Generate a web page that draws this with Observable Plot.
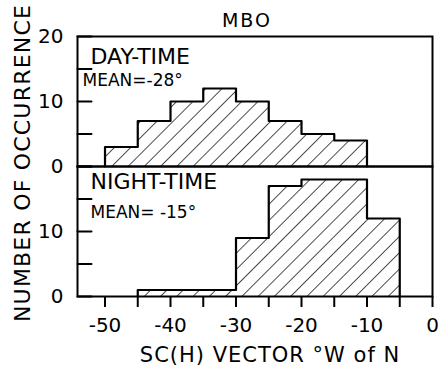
<!DOCTYPE html>
<html>
<head>
<meta charset="utf-8">
<script src="https://cdn.jsdelivr.net/npm/d3@7"></script>
<script src="https://cdn.jsdelivr.net/npm/@observablehq/plot@0.6"></script>
<style>
  html, body { margin: 0; padding: 0; background: white; }
  #chart { width: 438px; height: 367px; }
</style>
</head>
<body>
<div id="chart"></div>
<script>
// ---- data ----
const binWidth = 5;
const dayBinStarts = [-50, -45, -40, -35, -30, -25, -20, -15];
const dayCounts    = [3, 7, 10, 12, 10, 7, 5, 4];
const nightBinStarts = [-45, -40, -35, -30, -25, -20, -15, -10];
const nightCounts    = [1, 1, 1, 9, 17, 18, 18, 12];
const xTickValues  = [-50, -45, -40, -35, -30, -25, -20, -15, -10, -5, 0];
const xLabelValues = [-50, -40, -30, -20, -10, 0];
const yTickValues  = [0, 5, 10, 15, 20];
const dayYLabels   = [0, 10, 20];
const nightYLabels = [0, 10];
const title = "MBO";
const xTitle = "SC(H) VECTOR \u00B0W of N";
const yTitle = "NUMBER OF OCCURRENCE";
const dayTitle = "DAY-TIME", dayMean = "MEAN=-28\u00B0";
const nightTitle = "NIGHT-TIME", nightMean = "MEAN= -15\u00B0";

// ---- tables built from the arrays ----
function bins(panel, starts, counts) {
  return starts.map((s, i) => ({panel, x1: s, x2: s + binWidth, count: counts[i]}));
}
function outline(panel, starts, counts) {
  const pts = [{panel, x: starts[0], y: 0}];
  starts.forEach((s, i) => pts.push({panel, x: s, y: counts[i]}));
  const end = starts[starts.length - 1] + binWidth;
  pts.push({panel, x: end, y: counts[counts.length - 1]});
  pts.push({panel, x: end, y: 0});
  return pts;
}
const barData = [...bins("day", dayBinStarts, dayCounts), ...bins("night", nightBinStarts, nightCounts)];
const lineData = [...outline("day", dayBinStarts, dayCounts), ...outline("night", nightBinStarts, nightCounts)];
const yLabelData = [
  ...dayYLabels.map(v => ({panel: "day", v})),
  ...nightYLabels.map(v => ({panel: "night", v}))
];

const tickShape = {
  draw(context, l) { context.moveTo(0, 0); context.lineTo(0, -l); }
};

const fmt = d => d < 0 ? "-" + Math.abs(d) : String(d);

const chart = Plot.plot({
  width: 438,
  height: 367,
  marginLeft: 77,
  marginRight: 6,
  marginTop: 35,
  marginBottom: 71,
  style: {fontFamily: "DejaVu Sans", fontSize: "20px", background: "white", color: "black"},
  x: {domain: [-54.2, 0], axis: null},
  y: {domain: [0, 20], axis: null},
  fy: {domain: ["day", "night"], padding: 0, axis: null},
  marks: [
    Plot.rectY(barData, {x1: "x1", x2: "x2", y: "count", fy: "panel", fill: "url(#hatch)"}),
    Plot.line(lineData, {x: "x", y: "y", z: "panel", fy: "panel", curve: "step-after", stroke: "black", strokeWidth: 2.2}),
    Plot.frame({stroke: "black", strokeWidth: 2}),
    Plot.vector(yTickValues, {y: d => d, frameAnchor: "left", length: 14, rotate: 90, anchor: "start", shape: tickShape, stroke: "black", strokeWidth: 2}),
    Plot.text(yLabelData, {y: "v", fy: "panel", text: d => String(d.v), frameAnchor: "left", textAnchor: "end", dx: -14, fontSize: 20}),
    Plot.axisX({ticks: xTickValues, tickSize: 11, tickPadding: 10, strokeWidth: 2, tickFormat: d => xLabelValues.includes(d) ? fmt(d) : "", fontSize: 20, label: null}),
    Plot.text([dayTitle], {fy: ["day"], text: d => d, frameAnchor: "top-left", textAnchor: "start", lineAnchor: "top", dx: 13, dy: 12, fontSize: 22}),
    Plot.text([dayMean], {fy: ["day"], text: d => d, frameAnchor: "top-left", textAnchor: "start", lineAnchor: "top", dx: 5, dy: 37, fontSize: 17}),
    Plot.text([nightTitle], {fy: ["night"], text: d => d, frameAnchor: "top-left", textAnchor: "start", lineAnchor: "top", dx: 13, dy: 7, fontSize: 22}),
    Plot.text([nightMean], {fy: ["night"], text: d => d, frameAnchor: "top-left", textAnchor: "start", lineAnchor: "top", dx: 13, dy: 39, fontSize: 17})
  ]
});

// hatch pattern
const svg = d3.select(chart);
const defs = svg.insert("defs", ":first-child");
const pat = defs.append("pattern")
  .attr("id", "hatch")
  .attr("patternUnits", "userSpaceOnUse")
  .attr("width", 11.5).attr("height", 11.5)
  .attr("patternTransform", "rotate(45)");
pat.append("line").attr("x1", 0).attr("y1", 0).attr("x2", 0).attr("y2", 11.5)
  .attr("stroke", "black").attr("stroke-width", 1.4);

// titles
svg.append("text").text(title)
  .attr("x", 247).attr("y", 27).attr("text-anchor", "middle")
  .attr("font-size", 19).attr("letter-spacing", 2).attr("fill", "black");
svg.append("text").text(xTitle)
  .attr("x", 270).attr("y", 362).attr("text-anchor", "middle")
  .attr("font-size", 21).attr("letter-spacing", 1).attr("fill", "black");
svg.append("text").text(yTitle)
  .attr("transform", "translate(24,163) rotate(-90)")
  .attr("text-anchor", "middle").attr("dominant-baseline", "middle")
  .attr("font-size", 22).attr("letter-spacing", 1.2).attr("fill", "black");

document.getElementById("chart").appendChild(chart);
</script>
</body>
</html>
